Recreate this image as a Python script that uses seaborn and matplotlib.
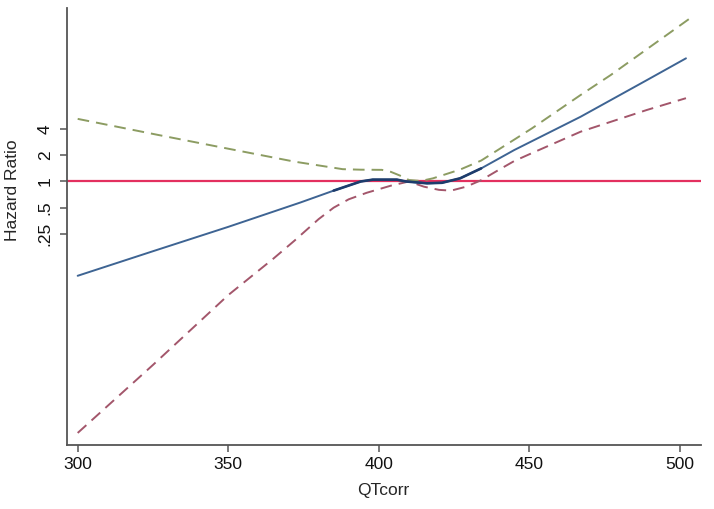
import matplotlib
matplotlib.use("Agg")
import matplotlib.pyplot as plt
import seaborn as sns
import pandas as pd
from matplotlib.ticker import FixedLocator, NullLocator

sns.set_style("white")
plt.rcParams["font.family"] = ["Liberation Sans", "DejaVu Sans"]

# Estimated hazard ratio (solid blue)
est_qt = [300, 325, 350, 374, 385, 394, 398, 406, 409, 416, 421, 427, 434, 445, 467, 489, 502]
est_hr = [0.0825, 0.158, 0.301, 0.574, 0.785, 1.0, 1.05, 1.05, 1.0, 0.953, 0.966, 1.087, 1.414, 2.30, 5.54, 14.6, 26.0]

# Upper confidence limit (green dashed)
upper_qt = [300, 327, 350, 372, 388, 394, 401, 404, 407, 410, 414, 418, 427, 434, 445, 451, 467, 477, 503]
upper_hr = [5.24, 3.41, 2.38, 1.69, 1.385, 1.366, 1.36, 1.29, 1.17, 1.04, 1.014, 1.087, 1.37, 1.74, 3.03, 4.11, 9.85, 16.7, 73.5]

# Lower confidence limit (red dashed)
lower_qt = [300, 325, 350, 365, 372, 380, 385, 390, 396, 404, 410, 415, 420, 424, 429, 434, 440, 445, 451, 467, 489, 502]
lower_hr = [0.00129, 0.0078, 0.0495, 0.130, 0.209, 0.369, 0.50, 0.624, 0.742, 0.895, 1.0, 0.871, 0.801, 0.785,
            0.871, 1.035, 1.37, 1.72, 2.13, 3.73, 6.63, 9.06]

ytick_vals = [0.25, 0.5, 1, 2, 4]
ytick_labels = [".25", ".5", "1", "2", "4"]
xtick_vals = [300, 350, 400, 450, 500]

df_est = pd.DataFrame({"QTcorr": est_qt, "HR": est_hr})
df_up = pd.DataFrame({"QTcorr": upper_qt, "HR": upper_hr})
df_lo = pd.DataFrame({"QTcorr": lower_qt, "HR": lower_hr})
df_mid = df_est[(df_est["QTcorr"] >= 385) & (df_est["QTcorr"] <= 434)]

fig = plt.figure(figsize=(7.14, 5.09), dpi=100)
ax = fig.add_axes([0.0934, 0.1267, 0.888, 0.857])

ax.axhline(1, color="#e3305f", lw=1.6, zorder=1)
sns.lineplot(data=df_up, x="QTcorr", y="HR", ax=ax, color="#8c9c62", lw=1.4,
             linestyle=(0, (6.0, 3.6)), sort=False, zorder=2)
sns.lineplot(data=df_lo, x="QTcorr", y="HR", ax=ax, color="#a3566b", lw=1.4,
             linestyle=(0, (6.0, 3.6)), sort=False, zorder=2)
sns.lineplot(data=df_est, x="QTcorr", y="HR", ax=ax, color="#3e6493", lw=1.4,
             sort=False, zorder=3)
sns.lineplot(data=df_mid, x="QTcorr", y="HR", ax=ax, color="#1d3c6c", lw=1.9,
             sort=False, zorder=3)

ax.set_yscale("log", base=2)
ax.set_ylim(0.00095, 97.7)
ax.set_xlim(296.35, 506.9)

fs = 12.5
ax.yaxis.set_major_locator(FixedLocator(ytick_vals))
ax.yaxis.set_minor_locator(NullLocator())
ax.set_yticklabels(ytick_labels, rotation=90, va="center", fontsize=fs)
ax.set_xticks(xtick_vals)
ax.set_xticklabels([str(v) for v in xtick_vals], fontsize=fs)

ax.set_xlabel("QTcorr", fontsize=fs, labelpad=8)
ax.set_ylabel("Hazard Ratio", fontsize=fs)
ax.yaxis.set_label_coords(-0.0737, 0.583)

for s in ["top", "right"]:
    ax.spines[s].set_visible(False)
for s in ["left", "bottom"]:
    ax.spines[s].set_color("#555555")
    ax.spines[s].set_linewidth(1.3)
ax.tick_params(axis="both", which="major", direction="out", length=5, width=1.1,
               color="#555555", labelcolor="#111111", left=True, bottom=True)
ax.tick_params(axis="y", pad=5)
ax.tick_params(axis="x", pad=4)
ax.grid(False)

fig.savefig("out.png", dpi=100)
